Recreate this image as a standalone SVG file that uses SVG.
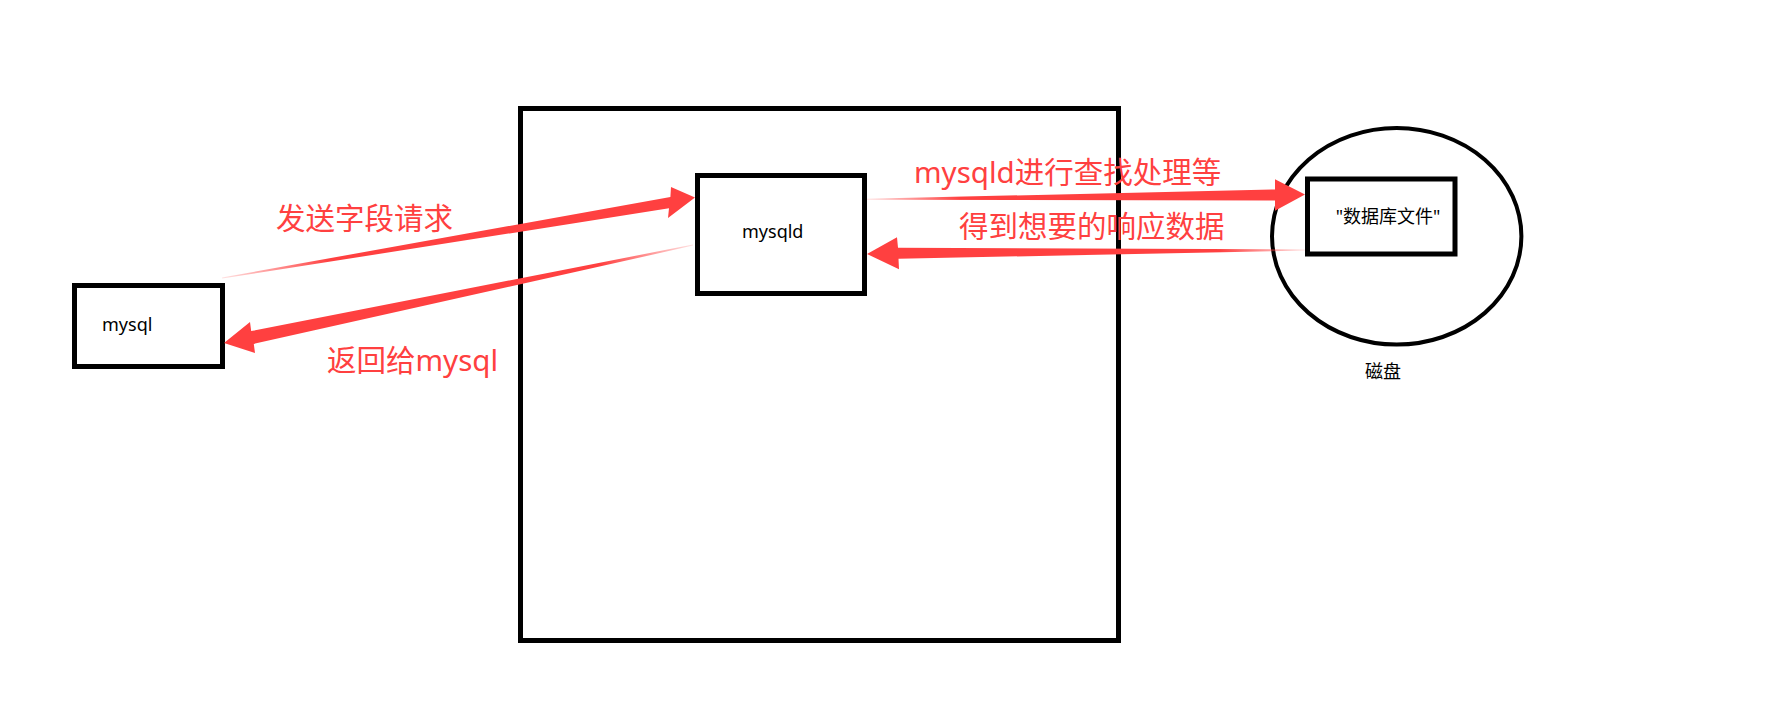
<svg xmlns="http://www.w3.org/2000/svg" width="1769" height="713" viewBox="0 0 1769 713">
<style>
.box{fill:none;stroke:#000;stroke-width:5}
.lbl{font-family:"Noto Sans","Noto Sans CJK SC",sans-serif;font-size:18px;fill:#000}
.red{font-family:"Noto Sans","Noto Sans CJK SC",sans-serif;font-size:29.5px;fill:#FF4040}
</style>
<defs>
<linearGradient id="g1" gradientUnits="userSpaceOnUse" x1="222" y1="278" x2="330" y2="260"><stop offset="0" stop-color="#FF4040" stop-opacity="0.15"/><stop offset="1" stop-color="#FF4040"/></linearGradient>
<linearGradient id="g2" gradientUnits="userSpaceOnUse" x1="693" y1="245" x2="600" y2="264"><stop offset="0" stop-color="#FF4040" stop-opacity="0.15"/><stop offset="1" stop-color="#FF4040"/></linearGradient>
<linearGradient id="g3" gradientUnits="userSpaceOnUse" x1="867" y1="199" x2="960" y2="198"><stop offset="0" stop-color="#FF4040" stop-opacity="0.15"/><stop offset="1" stop-color="#FF4040"/></linearGradient>
<linearGradient id="g4" gradientUnits="userSpaceOnUse" x1="1305" y1="250" x2="1220" y2="250"><stop offset="0" stop-color="#FF4040" stop-opacity="0.15"/><stop offset="1" stop-color="#FF4040"/></linearGradient>
</defs>
<rect width="1769" height="713" fill="#fff"/>
<g id="server">
<rect class="box" x="520.5" y="108.5" width="598" height="532"/>
</g>
<g id="mysql">
<rect class="box" x="74.5" y="285.5" width="148" height="81"/>
<text class="lbl" x="102" y="331">mysql</text>
</g>
<g id="mysqld">
<rect class="box" x="697.5" y="175.5" width="167" height="118"/>
<text class="lbl" x="742" y="238">mysqld</text>
</g>
<g id="disk">
<ellipse cx="1396.7" cy="236.3" rx="124.7" ry="108.3" fill="none" stroke="#000" stroke-width="4"/>
<text class="lbl" x="1383" y="378" text-anchor="middle">磁盘</text>
</g>
<g id="dbfile">
<rect class="box" x="1307.5" y="179" width="147.5" height="75"/>
<text class="lbl" x="1388" y="223" text-anchor="middle">"数据库文件"</text>
</g>
<g id="connectors">
<polygon fill="url(#g1)" points="222,277.6 670.4,197 671,187 695,197.5 668,218 669,208.3 222.2,278.6"/>
<polygon fill="url(#g2)" points="693,244.5 251.2,331.1 250,322 224,343 255,353 253.8,343.9 693,245.6"/>
<polygon fill="url(#g3)" points="867,198.8 1275,189.5 1275,179.3 1305,194.5 1275,210.7 1275,200.5 867,199.8"/>
<polygon fill="url(#g4)" points="1305,249.5 898,247.8 897,237.3 867,254 899,269.3 898.5,258.8 1305,250.5"/>
</g>
<g id="labels">
<text class="red" x="276" y="229">发送字段请求</text>
<text class="red" x="327" y="371">返回给mysql</text>
<text class="red" x="914" y="183">mysqld进行查找处理等</text>
<text class="red" x="959" y="237">得到想要的响应数据</text>
</g>
</svg>
